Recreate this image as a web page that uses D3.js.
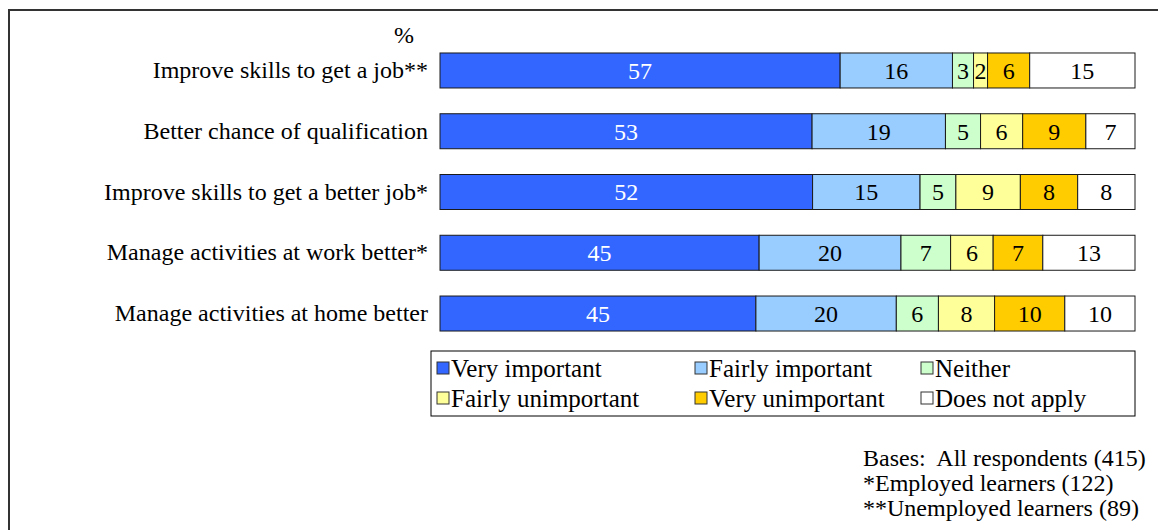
<!DOCTYPE html>
<html>
<head>
<meta charset="utf-8">
<script src="https://cdn.jsdelivr.net/npm/d3@7"></script>
<style>
  html, body { margin: 0; padding: 0; background: #fff; }
  svg { display: block; font-family: "Liberation Serif", "Times New Roman", serif; }
</style>
</head>
<body>
<svg id="chart" width="1158" height="530"></svg>
<script>
// Reasons for learning, rated by importance (%)
const categories = [
  "Improve skills to get a job**",
  "Better chance of qualification",
  "Improve skills to get a better job*",
  "Manage activities at work better*",
  "Manage activities at home better"
];
const seriesNames = [
  "Very important",
  "Fairly important",
  "Neither",
  "Fairly unimportant",
  "Very unimportant",
  "Does not apply"
];
const veryImportant      = [57, 53, 52, 45, 45];
const fairlyImportant    = [16, 19, 15, 20, 20];
const neither            = [3, 5, 5, 7, 6];
const fairlyUnimportant  = [2, 6, 9, 6, 8];
const veryUnimportant    = [6, 9, 8, 7, 10];
const doesNotApply       = [15, 7, 8, 13, 10];
const basesNotes = [
  "Bases:  All respondents (415)",
  "*Employed learners (122)",
  "**Unemployed learners (89)"
];

const seriesValues = [veryImportant, fairlyImportant, neither, fairlyUnimportant, veryUnimportant, doesNotApply];
const colors = ["#3366FF", "#99CCFF", "#CCFFCC", "#FFFF99", "#FFCC00", "#FFFFFF"];
const labelColors = ["#FFFFFF", "#000", "#000", "#000", "#000", "#000"];

// Rows as objects; each bar is scaled to its own total (100% stacked)
const rows = categories.map((c, i) => {
  const row = { category: c };
  seriesNames.forEach((s, k) => { row[s] = seriesValues[k][i]; });
  row.total = d3.sum(seriesNames, s => row[s]);
  return row;
});
const stacked = d3.stack().keys(seriesNames)(
  rows.map(r => {
    const o = { category: r.category, total: r.total };
    seriesNames.forEach(s => { o[s] = r[s] / r.total; });
    return o;
  })
);

const svg = d3.select("#chart");

// Outer frame (top and left edges)
svg.append("path")
  .attr("d", "M9,530 L9,10 L1158,10")
  .attr("fill", "none")
  .attr("stroke", "#333")
  .attr("stroke-width", 2);

const x = d3.scaleLinear().domain([0, 1]).range([440, 1135]);
const y = d3.scaleBand().domain(categories).range([40.1, 343.9])
  .paddingInner(0.424).paddingOuter(0.212);

const layers = svg.append("g").selectAll("g")
  .data(stacked)
  .join("g")
  .attr("fill", (d, i) => colors[i]);

layers.selectAll("rect")
  .data(d => d)
  .join("rect")
  .attr("x", d => x(d[0]))
  .attr("y", d => y(d.data.category))
  .attr("width", d => x(d[1]) - x(d[0]))
  .attr("height", y.bandwidth())
  .attr("stroke", "#1a1a1a")
  .attr("stroke-width", 1);

// Value labels
stacked.forEach((layer, k) => {
  svg.append("g").selectAll("text")
    .data(layer)
    .join("text")
    .attr("x", d => (x(d[0]) + x(d[1])) / 2)
    .attr("y", d => y(d.data.category) + y.bandwidth() / 2)
    .attr("dy", "0.35em")
    .attr("text-anchor", "middle")
    .attr("font-size", 24)
    .attr("fill", labelColors[k])
    .text((d, i) => seriesValues[k][i]);
});

// Category axis
const yAxis = svg.append("g")
  .attr("transform", "translate(440,0)")
  .call(d3.axisLeft(y).tickSize(0).tickPadding(12));
yAxis.select(".domain").remove();
yAxis.selectAll("text")
  .attr("font-size", 24)
  .attr("font-family", "Liberation Serif, Times New Roman, serif")
  .attr("fill", "#000");

svg.append("text")
  .attr("x", 404)
  .attr("y", 43)
  .attr("text-anchor", "middle")
  .attr("font-size", 24)
  .text("%");

// Legend
const legend = svg.append("g");
legend.append("rect")
  .attr("x", 431).attr("y", 351)
  .attr("width", 704).attr("height", 65)
  .attr("fill", "#fff").attr("stroke", "#000").attr("stroke-width", 1);

const colX = [437, 695, 921];
const rowY = [368, 398];
seriesNames.forEach((s, i) => {
  const cx = colX[i % 3], cy = rowY[Math.floor(i / 3)];
  legend.append("rect")
    .attr("x", cx).attr("y", cy - 6)
    .attr("width", 12).attr("height", 12)
    .attr("fill", colors[i])
    .attr("stroke", "#333").attr("stroke-width", 1);
  legend.append("text")
    .attr("x", cx + 14).attr("y", cy)
    .attr("dy", "0.35em")
    .attr("font-size", 25)
    .text(s);
});

// Base notes
svg.append("g").selectAll("text")
  .data(basesNotes)
  .join("text")
  .attr("x", 863)
  .attr("y", (d, i) => 466 + i * 25)
  .attr("font-size", 24)
  .style("white-space", "pre")
  .text(d => d);
</script>
</body>
</html>
